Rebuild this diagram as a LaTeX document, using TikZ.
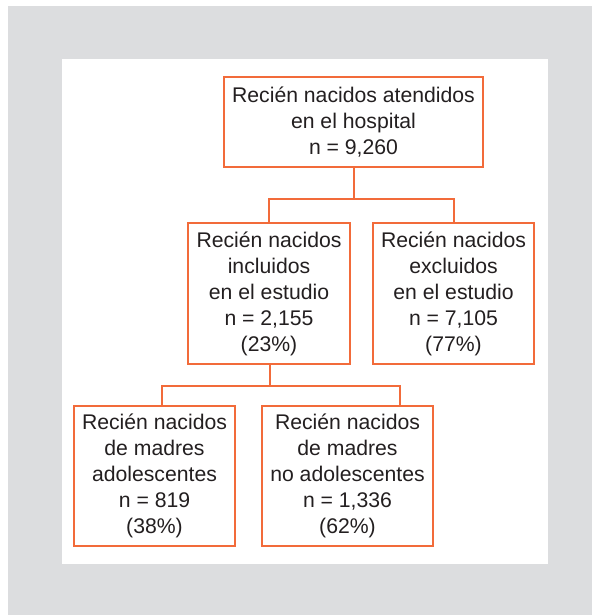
\documentclass[tikz,border=0pt]{standalone}
\usepackage{fontspec}
\setmainfont{Liberation Sans}
\definecolor{bggray}{HTML}{DCDDDF}
\definecolor{boxorange}{HTML}{F26B3A}
\definecolor{txt}{HTML}{231F20}
\begin{document}
\begin{tikzpicture}[x=1pt,y=1pt,
  box/.style={draw=boxorange, line width=1.3pt, fill=white, inner sep=0pt, align=center,
    text=txt, font=\fontsize{21.2}{26}\selectfont},
  link/.style={draw=boxorange, line width=1.3pt}]
\useasboundingbox (0,0) rectangle (592,-615);
\fill[white] (0,0) rectangle (592,-615);
\fill[bggray] (8,-6) rectangle (592,-615);
\fill[white] (62,-59) rectangle (548,-564);

\node[box, minimum width=259pt, minimum height=90pt] (b1) at (353.5,-122)
  {Recién nacidos atendidos\\en el hospital\\n = 9,260};
\node[box, minimum width=162pt, minimum height=141pt] (b2) at (269,-293.5)
  {Recién nacidos\\incluidos\\en el estudio\\n = 2,155\\(23\%)};
\node[box, minimum width=161pt, minimum height=141pt] (b3) at (453.5,-293.5)
  {Recién nacidos\\excluidos\\en el estudio\\n = 7,105\\(77\%)};
\node[box, minimum width=161pt, minimum height=140pt] (b4) at (154.5,-476)
  {Recién nacidos\\de madres\\adolescentes\\n = 819\\(38\%)};
\node[box, minimum width=171pt, minimum height=140pt] (b5) at (347.5,-476)
  {Recién nacidos\\de madres\\no adolescentes\\n = 1,336\\(62\%)};

\coordinate (j1) at (354,-199);
\coordinate (j2) at (270,-386);
\coordinate (d4) at (162,-406);
\coordinate (d5) at (400,-406);
\coordinate (d3) at (454,-223);

\draw[link] (b1.south -| j1) -- (j1);
\draw[link] (j1) -| (b2.north);
\draw[link] (j1) -| (d3);
\draw[link] (b2.south -| j2) -- (j2);
\draw[link] (j2) -| (d4);
\draw[link] (j2) -| (d5);
\end{tikzpicture}
\end{document}
